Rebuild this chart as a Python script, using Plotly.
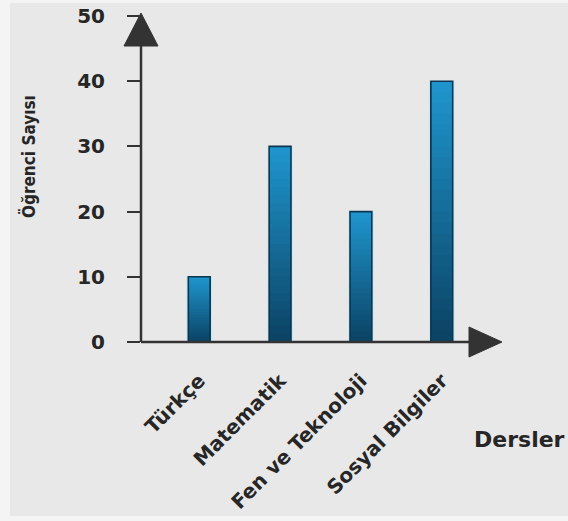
import plotly.graph_objects as go

categories = ["Türkçe", "Matematik", "Fen ve Teknoloji", "Sosyal Bilgiler"]
values = [10, 30, 20, 40]
y_ticks = [0, 10, 20, 30, 40, 50]
y_title = "Öğrenci Sayısı"
x_title = "Dersler"

FONT = "DejaVu Sans"
TEXT = "#262626"
AXIS = "#333333"

# gradient colours (bottom -> top)
c_bot = (11, 66, 99)
c_top = (31, 150, 206)
N = 24
BAR_W = 0.27

fig = go.Figure()

# soft light glow behind bars
fig.add_trace(go.Bar(x=categories, y=values, width=BAR_W + 0.05,
                     marker=dict(color="rgba(190,232,248,0.75)", line=dict(width=0)),
                     hoverinfo="skip", showlegend=False))

# gradient fill: each layer covers from its base up to the bar top (no seams)
for k in range(N):
    t = (k + 0.5) / N
    col = tuple(int(round(c_bot[i] + (c_top[i] - c_bot[i]) * t)) for i in range(3))
    fig.add_trace(go.Bar(
        x=categories,
        y=[v * (N - k) / N for v in values],
        base=[v * k / N for v in values],
        width=BAR_W,
        marker=dict(color="rgb(%d,%d,%d)" % col, line=dict(width=0)),
        hoverinfo="skip", showlegend=False))

# outline
fig.add_trace(go.Bar(x=categories, y=values, width=BAR_W,
                     marker=dict(color="rgba(0,0,0,0)", line=dict(color="#0c3550", width=1.6)),
                     showlegend=False))

# plot area: x px 141..500, y px 16..342
W, H = 568, 521
L, R, T, B = 141, 68, 16, 179
pw, ph = W - L - R, H - T - B

def px(x):
    return (x - L) / pw

def py(y):
    return (H - B - y) / ph

shapes = [
    dict(type="rect", xref="paper", yref="paper", x0=px(10), x1=px(570), y0=py(516), y1=py(3),
         fillcolor="#e8e8e8", line=dict(width=0), layer="below"),
    dict(type="line", xref="paper", yref="paper", x0=0, x1=0, y0=0, y1=py(44),
         line=dict(color=AXIS, width=2.5)),
    dict(type="line", xref="paper", yref="paper", x0=0, x1=px(471), y0=0, y1=0,
         line=dict(color=AXIS, width=2.5)),
    dict(type="path", xref="paper", yref="paper",
         path="M %f %f L %f %f L %f %f Z" % (px(141), py(13), px(124), py(46), px(158), py(46)),
         fillcolor=AXIS, line=dict(color=AXIS, width=1)),
    dict(type="path", xref="paper", yref="paper",
         path="M %f %f L %f %f L %f %f Z" % (px(502), py(342), px(469), py(327), px(469), py(357)),
         fillcolor=AXIS, line=dict(color=AXIS, width=1)),
]

fig.update_layout(
    width=W, height=H,
    margin=dict(l=L, r=R, t=T, b=B),
    paper_bgcolor="#f4f4f4",
    plot_bgcolor="rgba(0,0,0,0)",
    barmode="overlay",
    shapes=shapes,
    showlegend=False,
    font=dict(family=FONT, color=TEXT),
    xaxis=dict(
        type="category", categoryorder="array", categoryarray=categories,
        range=[-0.72, 3.72], automargin=False,
        showline=False, showgrid=False, zeroline=False, ticks="",
        tickangle=-45,
        tickfont=dict(family=FONT, size=20, color=TEXT, weight="bold"),
        ticklabelstandoff=22,
    ),
    yaxis=dict(
        range=[0, 50], tickvals=y_ticks, automargin=False,
        showline=False, showgrid=False, zeroline=False,
        ticks="outside", ticklen=13, tickwidth=2, tickcolor=AXIS,
        tickfont=dict(family=FONT, size=20, color=TEXT, weight="bold"),
        ticklabelstandoff=18,
    ),
    annotations=[
        dict(text=y_title, xref="paper", yref="paper", x=px(29), y=py(157),
             textangle=-90, showarrow=False, xanchor="center", yanchor="middle",
             font=dict(family="DejaVu Sans Condensed", size=17, color=TEXT, weight="bold")),
        dict(text=x_title, xref="paper", yref="paper", x=px(519), y=py(439),
             showarrow=False, xanchor="center", yanchor="middle",
             font=dict(family=FONT, size=22, color=TEXT, weight="bold")),
    ],
)

fig.write_html("out.html", config={"displayModeBar": False},
               post_script="document.body.style.margin='0';document.body.style.overflow='hidden';")
